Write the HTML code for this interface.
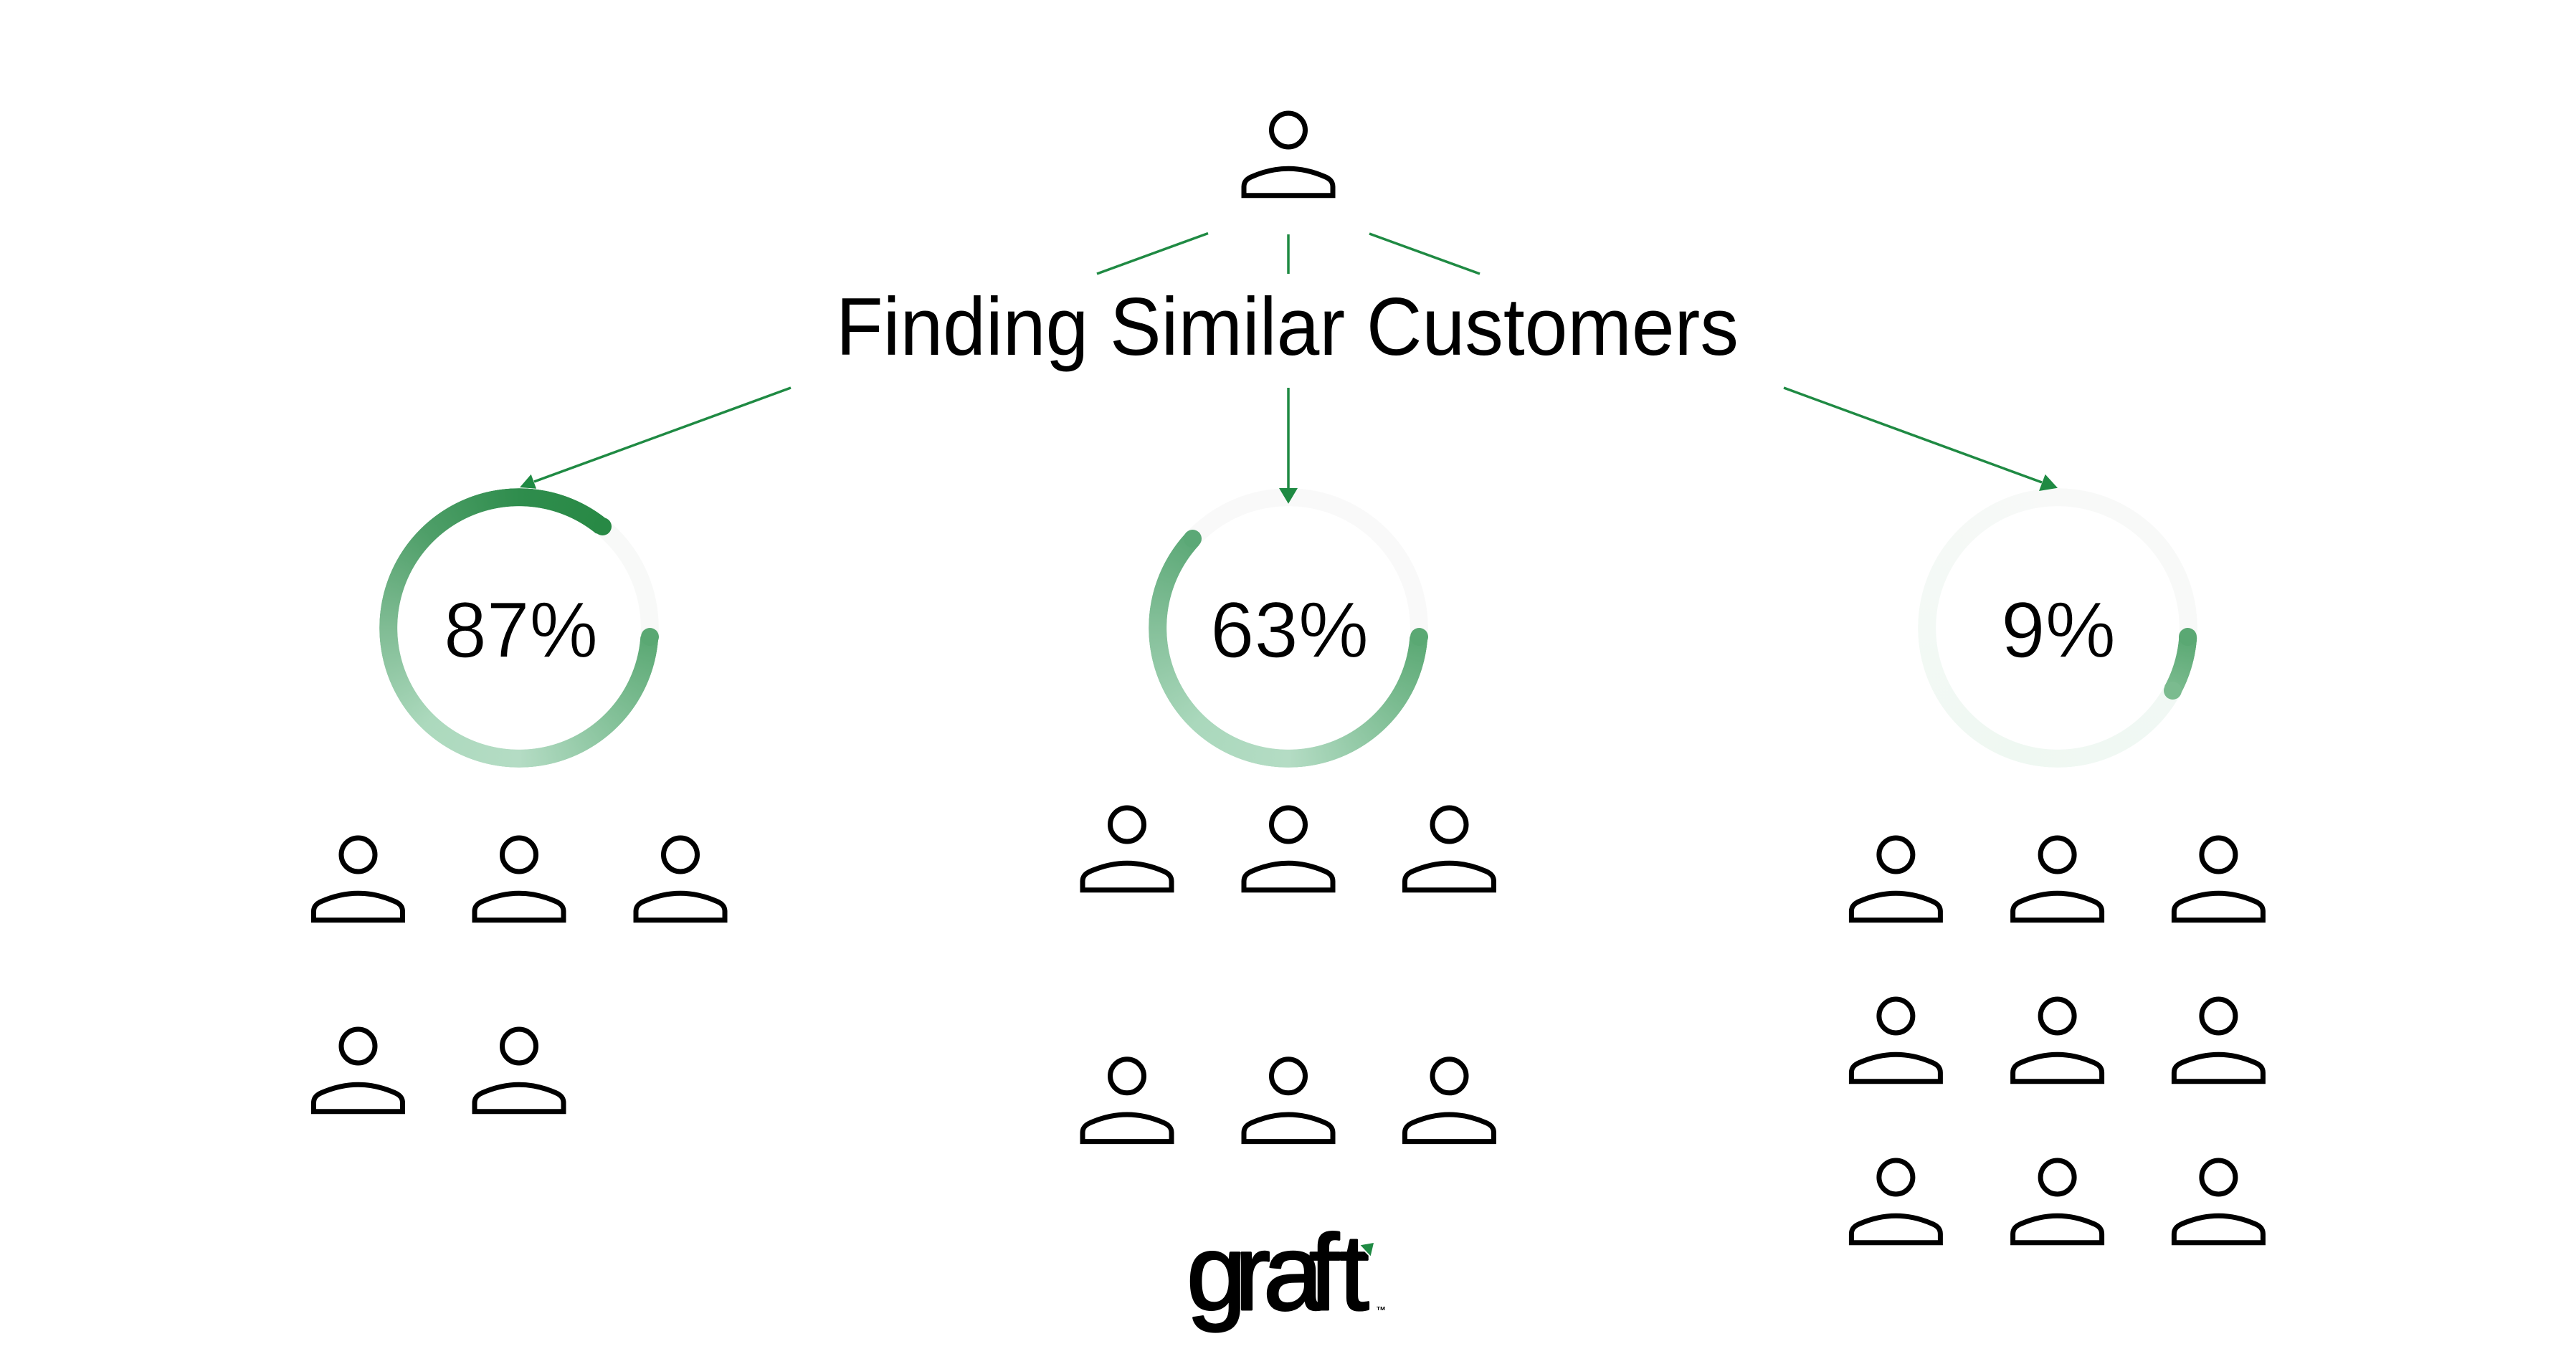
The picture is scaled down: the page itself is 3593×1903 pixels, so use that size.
<!DOCTYPE html>
<html lang="en">
<head>
<meta charset="utf-8">
<title>Finding Similar Customers</title>
<style>
html,body{margin:0;padding:0;background:#fff;}
#c{position:relative;width:3593px;height:1903px;overflow:hidden;background:#fff;}
.r{position:absolute;width:390px;height:390px;top:681px;border-radius:50%;
-webkit-mask:radial-gradient(circle closest-side,transparent 169.6px,#000 170px,#000 194.6px,transparent 195px);
mask:radial-gradient(circle closest-side,transparent 169.6px,#000 170px,#000 194.6px,transparent 195px);}
.k{position:absolute;width:25px;height:25px;border-radius:50%;}
svg{position:absolute;left:0;top:0;}
text{font-family:"Liberation Sans",sans-serif;fill:#000;}
</style>
</head>
<body>
<div id="c">
<!-- ring 1 -->
<div class="r" style="left:529px;background:#f8f9f8"></div>
<div class="r" style="left:529px;background:conic-gradient(from 94deg,#5aa873 0deg,#84c199 40deg,#b4dcc4 86deg,#acd9bd 130deg,#80bc94 176deg,#4f9f69 221deg,#2f8d4d 266deg,#288945 305.3deg,transparent 305.3deg)"></div>
<div class="k" style="left:893.5px;top:875.5px;background:#5aa873"></div>
<div class="k" style="left:827.5px;top:722px;background:#288945"></div>
<!-- ring 2 -->
<div class="r" style="left:1602px;background:#f9f9f9"></div>
<div class="r" style="left:1602px;background:conic-gradient(from 94deg,#5aa873 0deg,#84c199 40deg,#b4dcc4 86deg,#aad8bc 130deg,#85c09a 176deg,#5ba876 218.8deg,transparent 218.8deg)"></div>
<div class="k" style="left:1966.5px;top:875.5px;background:#5aa873"></div>
<div class="k" style="left:1651px;top:739px;background:#5ba876"></div>
<!-- ring 3 -->
<div class="r" style="left:2675px;background:conic-gradient(from 120deg,#f1f8f4 0deg,#eff8f2 80deg,#f3f9f5 150deg,#f8f9f8 240deg,#f8f9f8 340deg,#f1f8f4 360deg)"></div>
<div class="r" style="left:2675px;background:conic-gradient(from 94deg,#5aa873 0deg,#7bbb8f 24.7deg,transparent 24.7deg)"></div>
<div class="k" style="left:3038.5px;top:875.5px;background:#5aa873"></div>
<div class="k" style="left:3017.5px;top:951px;background:#7bbb8f"></div>

<svg width="3593" height="1903" viewBox="0 0 3593 1903" xmlns="http://www.w3.org/2000/svg">
<defs>
<g id="p" fill="none" stroke="#000" stroke-width="7" stroke-linejoin="miter">
<circle cx="0" cy="0" r="23.5"/>
<path d="M-62 91.3V79C-62 72 -58 68 -51 65C-35 58 -17 53.7 0 53.7C17 53.7 35 58 51 65C58 68 62 72 62 79V91.3Z"/>
</g>
</defs>

<!-- connectors -->
<g stroke="#1f8a43" stroke-width="3.5" fill="none">
<path d="M1685 325.5L1530 382"/>
<path d="M1797 327V382"/>
<path d="M1910 326L2064 382"/>
<path d="M1103 541L745 672"/>
<path d="M1797 541V684"/>
<path d="M2488 541L2848 673"/>
</g>
<g fill="#1f8a43">
<polygon points="740.7,661.7 748,681.7 725,680"/>
<polygon points="1784,681 1810,681 1797,702.7"/>
<polygon points="2852.7,661.7 2844,685 2870,680.7"/>
</g>

<!-- people -->
<use href="#p" x="1797" y="181.5"/>
<use href="#p" x="499.5" y="1192.5"/><use href="#p" x="724" y="1192.5"/><use href="#p" x="949" y="1192.5"/>
<use href="#p" x="499.5" y="1459.5"/><use href="#p" x="724" y="1459.5"/>
<use href="#p" x="1572" y="1150.5"/><use href="#p" x="1797" y="1150.5"/><use href="#p" x="2021.5" y="1150.5"/>
<use href="#p" x="1572" y="1501.3"/><use href="#p" x="1797" y="1501.3"/><use href="#p" x="2021.5" y="1501.3"/>
<use href="#p" x="2644.4" y="1192.5"/><use href="#p" x="2869.6" y="1192.5"/><use href="#p" x="3094.4" y="1192.5"/>
<use href="#p" x="2644.4" y="1417.5"/><use href="#p" x="2869.6" y="1417.5"/><use href="#p" x="3094.4" y="1417.5"/>
<use href="#p" x="2644.4" y="1642.5"/><use href="#p" x="2869.6" y="1642.5"/><use href="#p" x="3094.4" y="1642.5"/>

<!-- labels -->
<text x="1166" y="495" font-size="114" textLength="1259" lengthAdjust="spacingAndGlyphs">Finding Similar Customers</text>
<text x="619" y="917" font-size="110" textLength="215" lengthAdjust="spacingAndGlyphs" stroke="#fff" stroke-width="1.2">87%</text>
<text x="1688" y="917" font-size="110" textLength="221" lengthAdjust="spacingAndGlyphs" stroke="#fff" stroke-width="1.2">63%</text>
<text x="2791" y="917" font-size="110" textLength="160" lengthAdjust="spacingAndGlyphs" stroke="#fff" stroke-width="1.2">9%</text>

<!-- logo -->
<text x="1655 1722 1762 1826 1868" y="1827" font-size="150" stroke="#000" stroke-width="3" stroke-linejoin="round">graft</text>
<polygon points="1895,1738 1917,1733 1912,1755" fill="#fff"/>
<polygon points="1897.7,1737.3 1916,1734 1911.7,1752.3" fill="#1f8a43"/>
<text x="1920" y="1828" font-size="7.5" font-weight="700" textLength="12" lengthAdjust="spacingAndGlyphs">TM</text>
</svg>
</div>
</body>
</html>
